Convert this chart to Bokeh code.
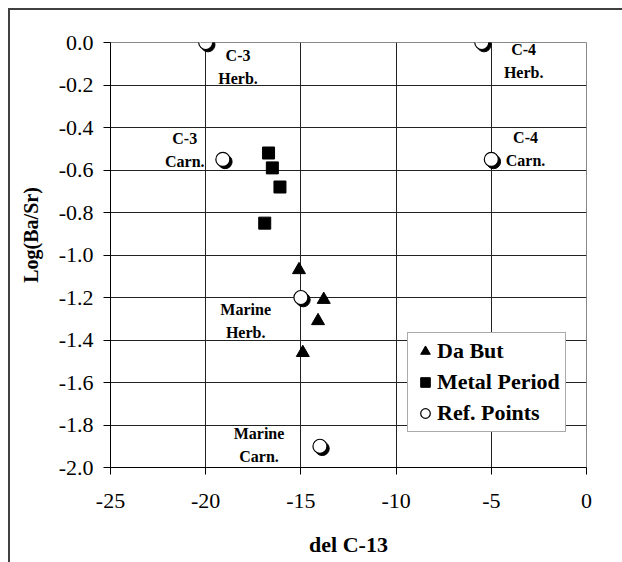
from bokeh.plotting import figure
from bokeh.models import ColumnDataSource, Legend, LegendItem, FixedTicker, CustomJSTickFormatter
from bokeh.transform import dodge
from bokeh.core.properties import value
from bokeh.embed import file_html
from bokeh.resources import INLINE

# Data
dabut_x = [-15.1, -13.8, -14.1, -14.9]
dabut_y = [-1.07, -1.21, -1.31, -1.46]

metal_x = [-16.7, -16.5, -16.1, -16.9]
metal_y = [-0.52, -0.59, -0.68, -0.85]

ref_x = [-20.0, -19.1, -5.5, -5.0, -15.0, -14.0]
ref_y = [0.0, -0.55, 0.0, -0.55, -1.2, -1.9]

label_text = ["C-3\nHerb.", "C-3\nCarn.", "C-4\nHerb.", "C-4\nCarn.", "Marine\nHerb.", "Marine\nCarn."]
label_x = [-18.3, -21.1, -3.3, -3.2, -17.9, -17.2]
label_y = [-0.02, -0.41, 0.005, -0.405, -1.217, -1.80]

x_ticks = [-25, -20, -15, -10, -5, 0]
y_ticks = [0.0, -0.2, -0.4, -0.6, -0.8, -1.0, -1.2, -1.4, -1.6, -1.8, -2.0]

FONT = "Liberation Serif"

p = figure(width=614, height=554, output_backend="svg", toolbar_location=None,
           x_range=(-25, 0), y_range=(-2.0, 0.0),
           min_border_left=100, min_border_right=38, min_border_top=32, min_border_bottom=97)

p.styles = {"border-left": "2px solid #404040", "border-top": "2px solid #404040",
            "box-sizing": "border-box", "margin-left": "8px", "margin-top": "8px"}

p.outline_line_color = "#888888"
p.outline_line_width = 1
p.background_fill_color = "white"
p.border_fill_color = "white"

p.xgrid.ticker = FixedTicker(ticks=x_ticks)
p.ygrid.ticker = FixedTicker(ticks=y_ticks)
p.xgrid.grid_line_color = "#222222"
p.ygrid.grid_line_color = "#222222"

p.xaxis.ticker = FixedTicker(ticks=x_ticks)
p.yaxis.ticker = FixedTicker(ticks=y_ticks)
p.xaxis.formatter = CustomJSTickFormatter(code="return tick.toFixed(0);")
p.yaxis.formatter = CustomJSTickFormatter(code="return tick.toFixed(1);")
for ax in (p.xaxis[0], p.yaxis[0]):
    ax.axis_line_color = "black"
    ax.major_tick_line_color = "black"
    ax.major_tick_out = 7
    ax.major_tick_in = 0
    ax.minor_tick_line_color = None
    ax.major_label_text_font = FONT
    ax.major_label_text_font_size = "22px"
    ax.major_label_text_color = "black"
    ax.axis_label_text_font = FONT
    ax.axis_label_text_font_style = "bold"
    ax.axis_label_text_color = "black"

p.xaxis.axis_label = "del C-13"
p.yaxis.axis_label = "\u00a0" * 8 + "Log(Ba/Sr)"
p.xaxis.axis_label_text_font_size = "22px"
p.yaxis.axis_label_text_font_size = "20px"
p.xaxis.major_label_standoff = 19
p.yaxis.major_label_standoff = 10
p.xaxis.axis_label_standoff = 21
p.yaxis.axis_label_standoff = 14

s_dabut = ColumnDataSource(dict(x=dabut_x, y=dabut_y))
s_metal = ColumnDataSource(dict(x=metal_x, y=metal_y))
s_ref = ColumnDataSource(dict(x=ref_x, y=ref_y))
s_lab = ColumnDataSource(dict(x=label_x, y=label_y, t=label_text))

r_tri = p.scatter("x", "y", source=s_dabut, marker="triangle", size=13,
                  fill_color="black", line_color="black")
r_sq = p.scatter("x", "y", source=s_metal, marker="square", size=12,
                 fill_color="black", line_color="black")
p.scatter(x=dodge("x", 0.12, range=p.x_range), y=dodge("y", -0.011, range=p.y_range),
          source=s_ref, marker="circle", size=14, fill_color="black", line_color="black")
r_circ = p.scatter("x", "y", source=s_ref, marker="circle", size=14,
                   fill_color="white", line_color="black", line_width=1.2)

p.text("x", "y", text="t", source=s_lab, text_font=value(FONT), text_font_style="bold",
       text_font_size="16px", text_align="center", text_baseline="top",
       text_line_height=1.35, text_color="black")

legend = Legend(items=[
    LegendItem(label="Da But", renderers=[r_tri]),
    LegendItem(label="Metal Period", renderers=[r_sq]),
    LegendItem(label="Ref. Points", renderers=[r_circ]),
], location=(297, 35))
legend.label_text_font = FONT
legend.label_text_font_style = "bold"
legend.label_text_font_size = "22px"
legend.label_text_color = "black"
legend.border_line_color = "#555555"
legend.border_line_width = 1
legend.background_fill_color = "white"
legend.background_fill_alpha = 1
legend.glyph_width = 24
legend.glyph_height = 24
legend.label_height = 20
legend.label_standoff = 0
legend.spacing = 5
legend.padding = 5
legend.margin = 0
p.add_layout(legend, "center")

open("out.html", "w").write(file_html(p, INLINE))
